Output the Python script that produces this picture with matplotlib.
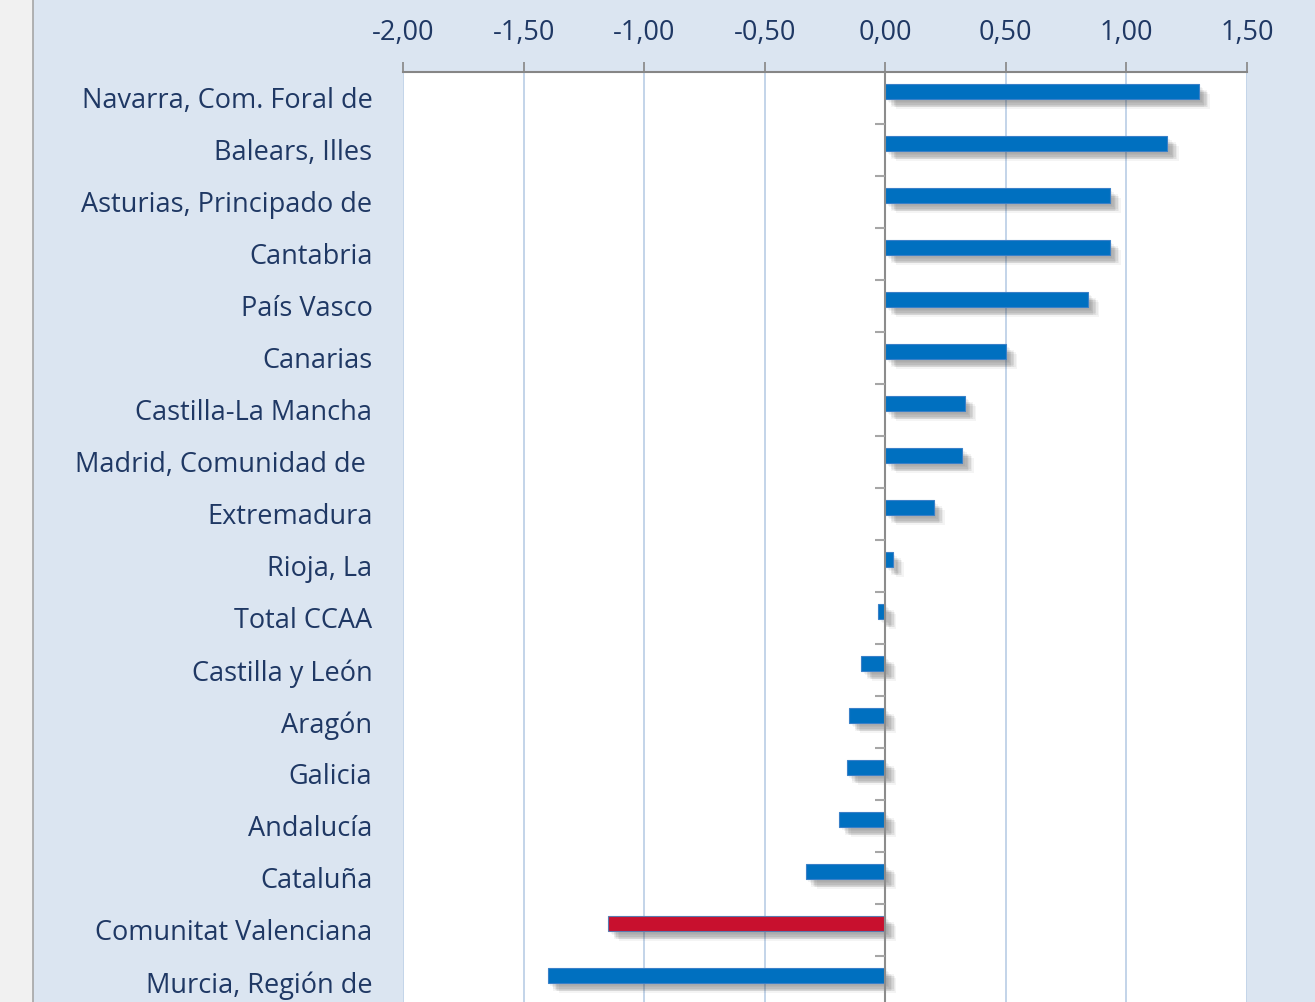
import matplotlib.pyplot as plt
import matplotlib.patheffects as pe
from matplotlib.patches import Rectangle
import numpy as np

regions = [
    "Navarra, Com. Foral de", "Balears, Illes", "Asturias, Principado de",
    "Cantabria", "País Vasco", "Canarias", "Castilla-La Mancha",
    "Madrid, Comunidad de ", "Extremadura", "Rioja, La", "Total CCAA",
    "Castilla y León", "Aragón", "Galicia", "Andalucía", "Cataluña",
    "Comunitat Valenciana", "Murcia, Región de",
]
values = [1.30, 1.17, 0.93, 0.93, 0.84, 0.50, 0.33, 0.32, 0.20, 0.03,
          -0.03, -0.10, -0.15, -0.16, -0.19, -0.33, -1.15, -1.40]
highlight = "Comunitat Valenciana"
xticks = [-2.0, -1.5, -1.0, -0.5, 0.0, 0.5, 1.0, 1.5]

blue = "#0070c0"
red = "#c8102e"
txt = "#1f3864"
bg = "#dbe5f1"

plt.rcParams['font.family'] = ['Open Sans', 'DejaVu Sans']

fig = plt.figure(figsize=(13.15, 10.02), dpi=100)
fig.patch.set_facecolor(bg)
# faded strip on the left
fig.patches.append(Rectangle((0, 0), 33 / 1315, 1, transform=fig.transFigure,
                             facecolor="#f1f1f1", edgecolor="none", zorder=0))
fig.add_artist(plt.Line2D([33 / 1315, 33 / 1315], [0, 1], transform=fig.transFigure,
                          color="#a6a6a6", lw=1.2))

ax = fig.add_axes([403 / 1315, 1 - 1008 / 1002, 844 / 1315, 936 / 1002])
ax.set_facecolor("white")

y = np.arange(len(regions))
colors = [red if r == highlight else blue for r in regions]
edges = ["#5a7bb0" if r == highlight else "#3a80c8" for r in regions]
bars = ax.barh(y - 0.125, values, height=0.29, color=colors, edgecolor=edges,
               linewidth=0.8, zorder=3)

# soft blurred shadow: several faint offset copies
shadow = []
for dx, dy in [(2, -2), (3, -3), (4, -4), (5, -5), (6, -6), (7, -6), (4, -6), (6, -4), (8, -7)]:
    shadow.append(pe.SimplePatchShadow(offset=(dx, dy), shadow_rgbFace="#444444", alpha=0.06))
shadow.append(pe.Normal())
for b in bars:
    b.set_path_effects(shadow)

ax.set_xlim(-2.0, 1.5)
ax.set_ylim(len(regions) - 0.5, -0.5)

ax.xaxis.tick_top()
ax.set_xticks(xticks)
ax.set_xticklabels([f"{v:.2f}".replace(".", ",") for v in xticks], fontsize=19.5, color=txt)
ax.tick_params(axis='x', direction='out', length=7, width=1.2, color="#868686", pad=11)
ax.grid(axis='x', color="#b9cde5", lw=1.2, zorder=0)

ax.set_yticks(y)
ax.set_yticklabels(regions, fontsize=19.5, color=txt)
ax.tick_params(axis='y', length=0, pad=22)

for s in ['left', 'right', 'bottom']:
    ax.spines[s].set_visible(False)
ax.spines['top'].set_color("#868686")
ax.spines['top'].set_linewidth(1.5)

# category axis crossing at zero, ticks between categories
ax.axvline(0, color="#8c8c8c", lw=1.5, zorder=4)
bounds = np.arange(len(regions) + 1) - 0.5
ax.hlines(bounds[1:], -0.042, 0, color="#a6a6a6", lw=1.5, zorder=4)

fig.savefig("out.png", dpi=100, facecolor=fig.get_facecolor())
